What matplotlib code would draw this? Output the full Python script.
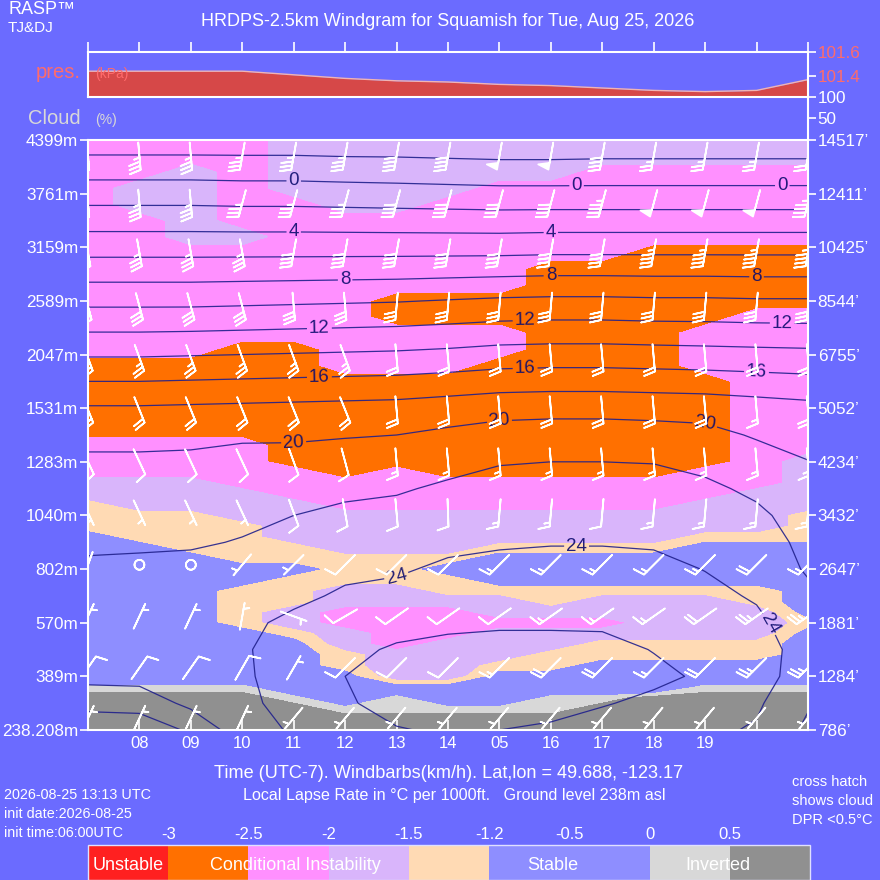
import numpy as np
import matplotlib
matplotlib.use("Agg")
import matplotlib.pyplot as plt

plt.rcParams['font.family'] = ['Liberation Sans', 'DejaVu Sans']

BG = '#6b6bff'

# ---- data ----
hours = list(range(7, 22))
hour_labels = ['', '08', '09', '10', '11', '12', '13', '14', '05', '16', '17', '18', '19', '', '']

pressure_kpa = [101.44, 101.44, 101.44, 101.44, 101.41, 101.38, 101.36, 101.35,
                101.33, 101.32, 101.30, 101.28, 101.27, 101.28, 101.37]

level_m = ['238.208m', '389m', '570m', '802m', '1040m', '1283m', '1531m', '2047m',
           '2589m', '3159m', '3761m', '4399m']
level_ft = ["786’", "1284’", "1881’", "2647’", "3432’", "4234’", "5052’", "6755’",
            "8544’", "10425’", "12411’", "14517’"]

# lapse rate class per hour column (bottom -> top on lapse_levels)
lapse_levels = [0.0, 0.2, 0.4, 0.6, 0.8, 1.0, 1.2, 1.4, 1.6, 1.8, 2.0, 2.2, 2.4, 2.6,
                2.8, 3.0, 3.2, 3.4, 3.6, 3.8, 4.0, 4.2, 4.4, 4.6, 4.8, 5.0,
                5.3, 5.6, 5.9, 6.2, 6.5, 6.8, 7.1, 7.4, 7.7, 8.0, 8.3, 8.6, 8.9,
                9.2, 9.5, 9.8, 10.1, 10.4, 10.7, 11.0]
class_value = {'O': -2.75, 'K': -2.25, 'V': -1.75, 'P': -1.35, 'B': -1.05,
               'G': 0.25, 'D': 0.75}
lapse_cols = [
    "DDDDGBBBBBBBBBBBBBBPPPVVKK" "KOOOOOKKKKKKKKKKKKKK",  # 07
    "DDDDGBBBBBBBBBBBBBPPPVVVKK" "KOOOOOKKKKKKKKKVVKKK",  # 08
    "DDDDGBBBBBBBBBBBBPPPPVVVKK" "KOOOOOKKKKKKKVVVVVKK",  # 09
    "DDDDGBBBBBPPPPBBPPPPVVVKKK" "KOOOOOOKKKKKKVKKKKKK",  # 10
    "DDDGBBBBBPVVPPPBPPVVVVKKKO" "OOOOOOOKKKKKKKKKVVVV",  # 11
    "DDGBBBPPVVKKVVPPPVVVVKKKOO" "OOOOOKKKKKKKKKKVVVVV",  # 12
    "DDGGBVVVKKKKVVPPPVVVVKKKKO" "OOOOOKKKOOKKKKKVVVVV",  # 13
    "DDGBBVVVVKKKVPPBPVVVVKKKOO" "OOOOOKKKOOKKKKKKVVVV",  # 14
    "DDGBBBPVVVKVVPBBBPVVVKKKOO" "OOOOOOKKOOKKKKKKKVVV",  # 15
    "DDGGBBPPVVKVPPBBBPVVVKKKOO" "OOOOOOOOOOOOKKKKKVVV",  # 16
    "DDDGBBBPPVKVVPBBBPVVVKKKOO" "OOOOOOOOOOOOKKKKKKVV",  # 17
    "DDDDBBBPPVVVVPBBBPVVVKKKOO" "OOOOOOOOOOOOOKKKKKVV",  # 18
    "DDDDGBBPPVVVVPBBBBPVVVKKKO" "OOOOOKKKOOOOOKKKKKVV",  # 19
    "DDDDGBBPPVVVPPBBBBPVVVVKKK" "KKKKKKKKKOOOOKKKKKVV",  # 20
    "DDDDGBBBBBPBBBBBBBPPPVVVVV" "KKKKKKKKKOOOOKKKKKVV",  # 21
]

# temperature (C) per hour column on temp_levels
temp_levels = [0, 0.5, 1, 1.5, 2, 2.5, 3, 3.5, 4, 4.5, 5, 5.5, 6, 7, 8, 9, 10, 11]
temp_cols = [
    [18.5, 20.7, 22.6, 22.8, 22.8, 22.6, 22.2, 21.8, 21.3, 20.8, 20.35, 19.4, 18.2, 13.8, 9.5, 5.2, 1.1, -3.2],
    [18.7, 20.8, 22.7, 22.9, 22.9, 22.7, 22.3, 21.8, 21.3, 20.8, 20.35, 19.4, 18.2, 13.8, 9.5, 5.2, 1.1, -3.2],
    [20.3, 22.5, 23.0, 23.2, 23.2, 23.0, 22.5, 21.8, 21.4, 20.9, 20.4, 19.5, 18.3, 13.9, 9.5, 5.2, 1.1, -3.2],
    [23.2, 23.6, 23.7, 23.8, 23.7, 23.4, 23.0, 22.1, 21.6, 21.0, 20.45, 19.8, 18.4, 14.0, 9.6, 5.2, 1.0, -3.2],
    [24.2, 24.6, 24.9, 24.8, 24.3, 23.7, 23.2, 22.8, 22.0, 21.3, 20.5, 19.8, 18.5, 14.1, 9.7, 5.2, 1.0, -3.2],
    [25.5, 25.8, 26.0, 25.6, 24.9, 24.2, 23.7, 23.1, 22.4, 21.6, 20.7, 19.9, 18.6, 14.2, 9.8, 5.2, 0.9, -3.3],
    [25.9, 26.6, 26.6, 26.2, 25.4, 24.5, 23.8, 23.2, 22.6, 21.8, 21.0, 20.0, 18.7, 14.3, 9.9, 5.2, 0.8, -3.3],
    [26.2, 27.0, 26.9, 26.4, 25.7, 25.0, 24.3, 23.6, 22.9, 22.3, 21.4, 20.4, 19.0, 14.5, 10.1, 5.2, 0.7, -3.4],
    [26.0, 27.1, 27.1, 26.5, 25.8, 25.1, 24.5, 23.8, 23.2, 22.6, 21.9, 20.8, 19.3, 14.8, 10.3, 5.2, 0.6, -3.5],
    [25.7, 26.7, 27.0, 26.5, 25.8, 25.2, 24.6, 23.9, 23.3, 22.7, 22.0, 20.9, 19.4, 14.9, 10.4, 5.3, 0.6, -3.5],
    [25.4, 26.1, 26.7, 26.4, 25.8, 25.2, 24.6, 23.9, 23.3, 22.7, 22.0, 20.9, 19.4, 14.9, 10.4, 5.3, 0.6, -3.4],
    [25.0, 25.7, 26.3, 25.95, 25.5, 25.0, 24.5, 23.8, 23.2, 22.6, 21.95, 20.8, 19.3, 14.8, 10.3, 5.3, 0.6, -3.4],
    [24.4, 25.1, 25.8, 25.5, 25.0, 24.5, 23.95, 23.4, 22.9, 22.3, 21.6, 20.6, 19.2, 14.7, 10.3, 5.3, 0.6, -3.4],
    [23.8, 24.3, 24.9, 24.8, 24.4, 23.8, 23.2, 22.7, 22.3, 21.7, 20.9, 19.8, 18.9, 14.6, 10.2, 5.3, 0.6, -3.4],
    [21.6, 22.2, 22.9, 23.2, 22.8, 22.4, 21.8, 21.6, 21.3, 20.8, 20.05, 19.3, 18.6, 14.5, 10.2, 5.3, 0.6, -3.4],
]
temp_plain_levels = [-4, -2, 2, 6, 10, 14, 18, 22, 26]
temp_label_levels = [0, 4, 8, 12, 16, 20, 24]
temp_label_spots = [(11, 10.25), (16.5, 10.15), (20.5, 10.12), (11, 9.28), (16, 9.28),
                    (12, 8.38), (16, 8.48), (20, 8.48), (11.5, 7.46), (15.5, 7.62),
                    (20.5, 7.62), (11.5, 6.55), (15.5, 6.73), (20, 6.72), (11, 5.3),
                    (15, 5.77), (19, 5.74), (13, 2.85), (16.5, 3.43), (20.3, 2.0)]

# wind barbs: rows (bottom -> top), direction wind is from (deg), speed km/h
barb_levels = [0.22, 1.16, 2.12, 3.08, 4.05, 5.0, 5.97, 6.94, 7.9, 8.9, 9.82, 10.7]
wind_dir = [
    [25, 25, 25, 25, 220, 220, 220, 220, 220, 220, 220, 220, 220, 220, 220],
    [35, 35, 35, 30, 30, 225, 225, 225, 225, 225, 225, 225, 225, 225, 225],
    [25, 25, 25, 10, 110, 240, 235, 235, 235, 235, 235, 235, 235, 235, 235],
    [200, 0, 0, 220, 225, 225, 225, 225, 225, 225, 225, 225, 225, 225, 225],
    [155, 155, 155, 155, 160, 170, 175, 178, 185, 185, 185, 185, 185, 185, 185],
    [155, 155, 155, 155, 160, 165, 175, 175, 175, 175, 175, 175, 175, 175, 175],
    [158, 158, 158, 158, 158, 158, 175, 175, 175, 175, 175, 175, 175, 175, 175],
    [160, 160, 160, 160, 160, 160, 175, 175, 175, 175, 175, 175, 175, 175, 175],
    [165, 165, 165, 165, 175, 175, 185, 185, 185, 185, 185, 185, 185, 185, 185],
    [170, 170, 170, 170, 190, 190, 190, 190, 190, 190, 190, 190, 190, 190, 190],
    [175, 175, 175, 195, 195, 195, 195, 195, 195, 195, 195, 195, 195, 195, 195],
    [175, 175, 175, 190, 190, 190, 190, 190, 190, 190, 190, 190, 190, 190, 190],
]
wind_spd = [
    [5, 5, 5, 5, 5, 5, 5, 5, 5, 5, 5, 5, 5, 5, 5],
    [10, 10, 10, 10, 5, 10, 10, 10, 15, 20, 20, 15, 20, 25, 25],
    [5, 5, 5, 5, 5, 10, 10, 10, 10, 15, 15, 15, 20, 25, 25],
    [5, 0, 0, 5, 5, 10, 10, 10, 15, 15, 15, 15, 15, 20, 15],
    [5, 5, 5, 5, 10, 10, 10, 10, 15, 15, 10, 15, 15, 15, 15],
    [10, 10, 10, 10, 10, 10, 15, 15, 15, 15, 15, 15, 15, 15, 15],
    [20, 20, 20, 20, 20, 20, 20, 20, 20, 20, 20, 20, 20, 15, 20],
    [25, 25, 25, 25, 25, 25, 20, 20, 20, 20, 20, 20, 20, 20, 20],
    [30, 30, 30, 30, 30, 30, 30, 30, 30, 30, 30, 30, 30, 30, 30],
    [35, 35, 35, 35, 40, 40, 40, 40, 40, 40, 40, 45, 45, 45, 45],
    [35, 35, 35, 35, 35, 35, 40, 40, 40, 40, 45, 50, 50, 50, 45],
    [35, 35, 35, 35, 35, 35, 40, 40, 50, 50, 40, 25, 25, 25, 20],
]

lapse_bounds = [-4, -3, -2.5, -2, -1.5, -1.2, -0.5, 0, 0.5, 1.5]
lapse_colors = ['#ff2020', '#ff7000', '#ff90ff', '#d9b5fb', '#ffdab4',
                '#8e8eff', '#8e8eff', '#d8d8d8', '#909090']
bar_ticks = [-3, -2.5, -2, -1.5, -1.2, -0.5, 0, 0.5]
bar_ticklabels = ['-3', '-2.5', '-2', '-1.5', '-1.2', '-0.5', '0', '0.5']


def fx(px):
    return px / 880


def fy(py):
    return 1 - py / 880


fig = plt.figure(figsize=(8.8, 8.8), dpi=100, facecolor=BG)

# ---- main windgram ----
ax = fig.add_axes([fx(88), fy(730), 720 / 880, 590 / 880])
Z = np.array([[class_value[c] for c in col] for col in lapse_cols]).T
cf = ax.contourf(hours, lapse_levels, Z, levels=lapse_bounds, colors=lapse_colors)

T = np.array(temp_cols).T
line_kw = dict(colors='#20208c', linewidths=0.9, alpha=0.9, linestyles='solid')
ax.contour(hours, temp_levels, T, levels=temp_plain_levels, **line_kw)
cs = ax.contour(hours, temp_levels, T, levels=temp_label_levels, **line_kw)
ax.clabel(cs, manual=temp_label_spots, inline=True, inline_spacing=2, fmt='%d',
          fontsize=13.5, colors='#0c0c6e')

H, LB = np.meshgrid(hours, barb_levels)
rad = np.radians(np.array(wind_dir, dtype=float))
spd = np.array(wind_spd, dtype=float)
ax.barbs(H, LB, -spd * np.sin(rad), -spd * np.cos(rad), pivot='middle', length=6.3,
         color='white', linewidth=1.25, zorder=4,
         sizes=dict(emptybarb=0.18, spacing=0.15, height=0.4))

ax.set_xlim(7, 21)
ax.set_ylim(0, 11)
ax.set_yticks(range(12))
ax.set_yticklabels(level_m)
ax.set_xticks(hours[1:14])
ax.set_xticklabels(hour_labels[1:14])
ax.get_xticklabels()[7].set_color('#4d4d4d')
for sp in ax.spines.values():
    sp.set_color('white')
    sp.set_linewidth(1.5)
ax.tick_params(axis='y', colors='white', labelsize=12.3, length=6, width=1.2,
               direction='out', pad=1)
ax.tick_params(axis='x', colors='white', labelsize=12, length=7, width=1.2,
               direction='in', pad=4)

axr = ax.twinx()
axr.set_ylim(0, 11)
axr.set_yticks(range(12))
axr.set_yticklabels(level_ft)
axr.tick_params(axis='y', colors='white', labelsize=12.3, length=6, width=1.2,
                direction='out', pad=1)
for sp in axr.spines.values():
    sp.set_visible(False)

# ---- pressure panel ----
axp = fig.add_axes([fx(88), fy(97), 720 / 880, 45 / 880])
axp.set_facecolor('none')
axp.fill_between(hours, pressure_kpa, 101.225, color='#d64848', lw=0)
axp.plot(hours, pressure_kpa, color='#f0b4b4', lw=1)
axp.set_xlim(7, 21)
axp.set_ylim(101.225, 101.6)
axp.set_xticks(hours)
axp.xaxis.set_ticks_position('top')
axp.set_xticklabels([])
axp.yaxis.tick_right()
axp.set_yticks([101.4, 101.6])
axp.set_yticklabels(['101.4', '101.6'])
axp.tick_params(axis='y', colors='white', labelcolor='#ff6b6b', labelsize=12.3,
                length=6, width=1.2, pad=1)
axp.tick_params(axis='x', colors='white', length=7, width=1.2, direction='out')
for sp in axp.spines.values():
    sp.set_color('white')
    sp.set_linewidth(1.5)

# ---- cloud panel (no cloud) ----
axc = fig.add_axes([fx(88), fy(140), 720 / 880, 43 / 880])
axc.set_facecolor('none')
axc.set_xlim(7, 21)
axc.set_ylim(0, 100)
axc.set_xticks([])
axc.yaxis.tick_right()
axc.set_yticks([50, 100])
axc.set_yticklabels(['50', '100'])
axc.tick_params(axis='y', colors='white', labelsize=12.3, length=6, width=1.2, pad=1)
for name, sp in axc.spines.items():
    sp.set_visible(name == 'right')
    sp.set_color('white')
    sp.set_linewidth(1.5)

# ---- lapse-rate legend bar ----
cax = fig.add_axes([fx(88), 0, 722 / 880, 35 / 880])
cb = fig.colorbar(cf, cax=cax, orientation='horizontal', ticks=bar_ticks)
cb.ax.set_xticklabels(bar_ticklabels)
cax.xaxis.set_ticks_position('top')
cax.tick_params(axis='x', colors='white', labelsize=12, length=0, pad=2)
cb.outline.set_edgecolor('#e0e0ff')
cb.outline.set_linewidth(1)
for xt, txt in [(0.055, 'Unstable'), (0.287, 'Conditional Instability'),
                (0.644, 'Stable'), (0.873, 'Inverted')]:
    cax.text(xt, 0.42, txt, transform=cax.transAxes, ha='center', va='center',
             color='white', fontsize=13)

# ---- texts ----
fig.text(fx(8), fy(9), 'RASP™', color='white', fontsize=13, va='center')
fig.text(fx(8), fy(28), 'TJ&DJ', color='white', fontsize=11, va='center')
fig.text(fx(448), fy(21), 'HRDPS-2.5km Windgram for Squamish for Tue, Aug 25, 2026',
         color='white', fontsize=13, ha='center', va='center')
fig.text(fx(81), fy(73), 'pres.', color='#ff6b6b', fontsize=14.5, ha='right', va='center')
fig.text(fx(95), fy(74), '(kPa)', color='#ff6b6b', fontsize=10, va='center', zorder=5)
fig.text(fx(81), fy(118), 'Cloud', color='#d8d8d8', fontsize=14.5, ha='right', va='center')
fig.text(fx(95), fy(120), '(%)', color='#d8d8d8', fontsize=10, va='center')
fig.text(fx(449), fy(773), 'Time (UTC-7). Windbarbs(km/h). Lat,lon = 49.688, -123.17',
         color='white', fontsize=13.1, ha='center', va='center')
fig.text(fx(454), fy(795), 'Local Lapse Rate in °C per 1000ft.   Ground level 238m asl',
         color='white', fontsize=11.6, ha='center', va='center')
for yy, txt in [(795, '2026-08-25 13:13 UTC'), (814, 'init date:2026-08-25'),
                (833, 'init time:06:00UTC')]:
    fig.text(fx(4), fy(yy), txt, color='white', fontsize=10.4, va='center')
for yy, txt in [(782, 'cross hatch'), (801, 'shows cloud'), (820, 'DPR <0.5°C')]:
    fig.text(fx(792), fy(yy), txt, color='white', fontsize=10.5, va='center')

fig.savefig('out.png', dpi=100, facecolor=BG)
